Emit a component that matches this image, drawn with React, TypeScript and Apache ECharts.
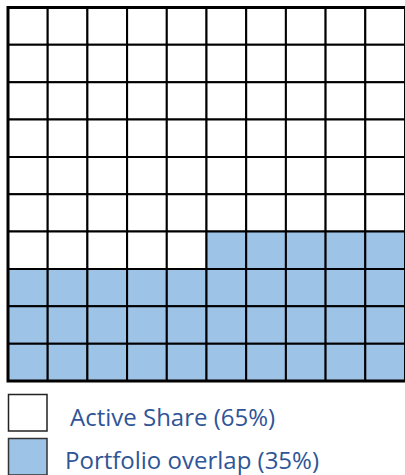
import React, { useEffect, useRef } from "react";
import * as echarts from "echarts";

// Waffle grid, top row first: 0 = Active Share (white), 1 = Portfolio overlap (blue)
const gridRows: number[][] = [
  [0, 0, 0, 0, 0, 0, 0, 0, 0, 0],
  [0, 0, 0, 0, 0, 0, 0, 0, 0, 0],
  [0, 0, 0, 0, 0, 0, 0, 0, 0, 0],
  [0, 0, 0, 0, 0, 0, 0, 0, 0, 0],
  [0, 0, 0, 0, 0, 0, 0, 0, 0, 0],
  [0, 0, 0, 0, 0, 0, 0, 0, 0, 0],
  [0, 0, 0, 0, 0, 1, 1, 1, 1, 1],
  [1, 1, 1, 1, 1, 1, 1, 1, 1, 1],
  [1, 1, 1, 1, 1, 1, 1, 1, 1, 1],
  [1, 1, 1, 1, 1, 1, 1, 1, 1, 1],
];
const seriesNames = ["Active Share (65%)", "Portfolio overlap (35%)"];
const seriesColors = ["#FFFFFF", "#9DC3E6"];
const colCats = ["1", "2", "3", "4", "5", "6", "7", "8", "9", "10"];
const rowCats = ["1", "2", "3", "4", "5", "6", "7", "8", "9", "10"];

export default function App() {
  const ref = useRef<HTMLDivElement>(null);
  useEffect(() => {
    if (!ref.current) return;
    const chart = echarts.init(ref.current, null, { renderer: "svg" });
    const n = gridRows.length;
    const cellData = seriesNames.map((_, k) => {
      const d: number[][] = [];
      gridRows.forEach((row, r) =>
        row.forEach((v, c) => {
          if (v === k) d.push([c, n - 1 - r]);
        })
      );
      return d;
    });
    const renderItem = (color: string) => (params: any, api: any) => {
      const p = api.coord([api.value(0), api.value(1)]);
      const s = api.size([1, 1]);
      return {
        type: "rect",
        shape: { x: p[0] - s[0] / 2, y: p[1] - s[1] / 2, width: s[0], height: s[1] },
        style: { fill: color, stroke: "#000", lineWidth: 2 },
      };
    };
    chart.setOption({
      animation: false,
      grid: { left: 8, top: 7.5, width: 400, height: 373.5, show: false },
      xAxis: { type: "category", data: colCats, show: false },
      yAxis: { type: "category", data: rowCats, show: false },
      series: seriesNames.map((name, k) => ({
        type: "custom",
        name,
        data: cellData[k],
        renderItem: renderItem(seriesColors[k]),
        encode: { x: 0, y: 1 },
      })),
      graphic: [
        {
          type: "rect",
          shape: { x: 8, y: 7.5, width: 400, height: 373.5 },
          style: { fill: "none", stroke: "#000", lineWidth: 3 },
          z: 100,
        },
        {
          type: "rect",
          shape: { x: 8.5, y: 394.5, width: 38.5, height: 36.5 },
          style: { fill: seriesColors[0], stroke: "#222", lineWidth: 1.5 },
        },
        {
          type: "rect",
          shape: { x: 8.5, y: 438.5, width: 38.5, height: 36.5 },
          style: { fill: seriesColors[1], stroke: "#333", lineWidth: 1.5 },
        },
        {
          type: "text",
          x: 70,
          y: 416,
          style: {
            text: seriesNames[0],
            fill: "#2F5597",
            font: "24px 'Open Sans'",
            verticalAlign: "middle",
          },
        },
        {
          type: "text",
          x: 65,
          y: 459,
          style: {
            text: seriesNames[1],
            fill: "#2F5597",
            font: "24px 'Open Sans'",
            verticalAlign: "middle",
          },
        },
      ],
    });
    return () => chart.dispose();
  }, []);
  return <div ref={ref} style={{ width: 405, height: 475, position: "absolute", left: 0, top: 0 }} />;
}
